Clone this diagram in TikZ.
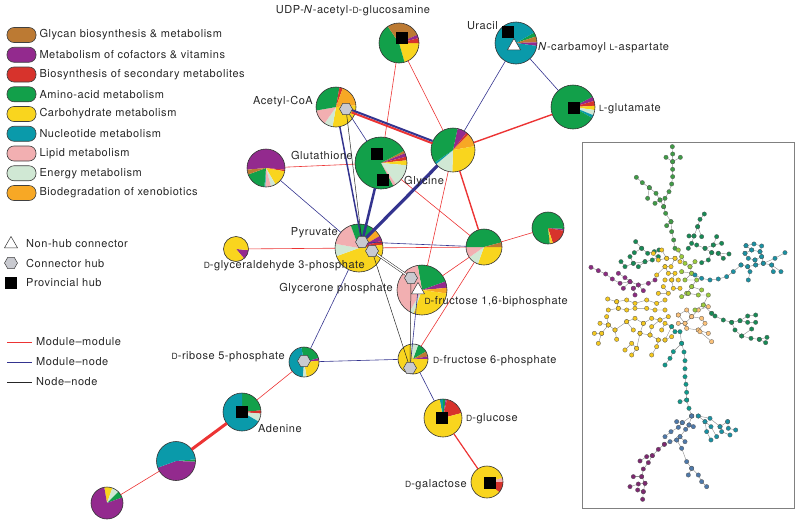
\documentclass[tikz,border=0pt]{standalone}
\usepackage{fontspec}
\setmainfont{TeX Gyre Heros}
\newfontfamily\labfamily{TeX Gyre Heros}[LetterSpace=5, Ligatures=TeX]
\usetikzlibrary{positioning,shapes.geometric}

% category colours
\definecolor{cglycan}{HTML}{BC7A33}
\definecolor{ccofac}{HTML}{932A8E}
\definecolor{csecond}{HTML}{D7332C}
\definecolor{camino}{HTML}{12A04A}
\definecolor{ccarbo}{HTML}{F9D51E}
\definecolor{cnucleo}{HTML}{0A9AAA}
\definecolor{clipid}{HTML}{F2AFB1}
\definecolor{cenergy}{HTML}{D0E8D4}
\definecolor{cxeno}{HTML}{F7A825}
\definecolor{hubgray}{HTML}{C9CAD0}
\definecolor{mmred}{HTML}{EC3434}
\definecolor{mnblue}{HTML}{34348F}
% inset colours
\definecolor{ngreen}{HTML}{3F9B46}
\definecolor{dgreen}{HTML}{178A55}
\definecolor{lgreen}{HTML}{9BCB3C}
\definecolor{nyellow}{HTML}{F4C81E}
\definecolor{lorange}{HTML}{FBC27A}
\definecolor{npurple}{HTML}{8C2B82}
\definecolor{nteal}{HTML}{0E9A8C}
\definecolor{ncyan}{HTML}{1A91A3}
\definecolor{nblue}{HTML}{4E79AA}
\definecolor{npurple2}{HTML}{7D2870}

\pgfdeclarelayer{front}
\pgfsetlayers{main,front}

\newcommand{\labfont}{\labfamily\fontsize{11}{13}\selectfont}
\newcommand{\smc}[1]{{\fontsize{8.5}{9}\selectfont #1}}

% pie node: name, centre, radius, slices
\newcommand{\pienode}[4]{%
  \node[pie, minimum size=2*#3pt] (#1) at (#2) {};
  \foreach \a/\b/\c in {#4}
    \fill[\c] (#1.center) -- ++(\a:#3) arc[start angle=\a, end angle=\b, radius=#3] -- cycle;
  \draw[pierim] (#1.center) circle[radius=#3];
}

\begin{document}
\begin{tikzpicture}[x=1pt, y=-1pt,
  pie/.style={circle, inner sep=0pt, outer sep=0pt},
  pierim/.style={draw=black!80, line width=0.6pt},
  provhub/.style={rectangle, fill=black, minimum size=12pt, inner sep=0pt},
  connhub/.style={regular polygon, regular polygon sides=6, draw=black!75, fill=hubgray, minimum size=13pt, inner sep=0pt, line width=0.5pt},
  nonhub/.style={regular polygon, regular polygon sides=3, draw=black!80, fill=white, minimum size=15pt, inner sep=0pt, line width=0.5pt},
  mm/.style={draw=mmred, line width=0.6pt},
  mn/.style={draw=mnblue, line width=0.6pt},
  nn/.style={draw=black!85, line width=0.5pt},
  lab/.style={font=\labfont, inner sep=0pt, text=black!85},
  legpill/.style={rectangle, rounded corners=7pt, draw=black!75, line width=0.6pt, minimum width=29pt, minimum height=15pt, inner sep=0pt},
  legtext/.style={font=\labfont, inner sep=0pt, text=black!85},
  twig/.style={draw=black!45, line width=0.4pt, mark=*, mark size=2.2pt, mark options={fill=#1, draw=black!65, line width=0.3pt}}]
\useasboundingbox (0,0) rectangle (800,525);

% legend
\foreach \c/\t [count=\i from 0] in {cglycan/Glycan biosynthesis \& metabolism, ccofac/Metabolism of cofactors \& vitamins, csecond/Biosynthesis of secondary metabolites, camino/Amino-acid metabolism, ccarbo/Carbohydrate metabolism, cnucleo/Nucleotide metabolism, clipid/Lipid metabolism, cenergy/Energy metabolism, cxeno/Biodegradation of xenobiotics}
{
  \node[legpill, fill=\c] (leg\i) at (21.5, 35+19.75*\i) {};
  \node[legtext, right=3pt of leg\i] (legt\i) {\t};
}
\node[nonhub] (legtri) at (11,244) {};
\node[legtext, right=15pt of legtri.center, anchor=west] (legtritext) {Non-hub connector};
\node[connhub] (leghex) at (11,263) {};
\node[legtext, right=15pt of leghex.center, anchor=west] (leghextext) {Connector hub};
\node[provhub] (legsq) at (11,283) {};
\node[legtext, right=15pt of legsq.center, anchor=west] (legsqtext) {Provincial hub};

\coordinate (lmm) at (7,342);
\coordinate (lmn) at (7,362);
\coordinate (lnn) at (7,382);
\draw[mm] (lmm) -- ++(25,0) coordinate (lmmend);
\draw[mn] (lmn) -- ++(25,0) coordinate (lmnend);
\draw[nn] (lnn) -- ++(25,0) coordinate (lnnend);
\node[legtext, right=4pt of lmmend] {Module--module};
\node[legtext, right=4pt of lmnend] {Module--node};
\node[legtext, right=4pt of lnnend] {Node--node};

% pies
\pienode{udp}{399,43}{20}{0/74/ccarbo, 74/236/camino, 236/336/cglycan, 336/346/ccofac, 346/360/csecond}
\pienode{ura}{516,43}{21}{-30/-18/camino, -18/-2/cglycan, -2/8/ccofac, 8/330/cnucleo}
\pienode{glu}{573,107}{22}{-28/-16/ccofac, -16/-3/csecond, -3/8/ccarbo, 8/22/cenergy, 22/30/cnucleo, 30/332/camino}
\pienode{aco}{336,107}{20}{-5/100/ccarbo, 100/125/cenergy, 125/170/clipid, 170/280/camino, 280/290/csecond, 290/355/cxeno}
\pienode{gsh}{381,163}{26}{-28/-22/cglycan, -22/-14/ccofac, -14/-6/csecond, -6/5/ccarbo, 5/55/cenergy, 55/62/clipid, 62/332/camino}
\pienode{pA}{453,150}{22}{-78/-52/ccofac, -52/-45/csecond, -45/-10/cxeno, -10/92/ccarbo, 92/140/cenergy, 140/146/cnucleo, 146/282/camino}
\pienode{pB}{266,168}{19}{-185/5/ccofac, 5/10/csecond, 10/60/ccarbo, 60/75/cenergy, 75/92/clipid, 92/95/cnucleo, 95/160/camino, 160/175/cglycan}
\pienode{pyr}{359,248}{24}{0/160/ccarbo, 160/190/cenergy, 190/250/clipid, 250/305/camino, 305/330/cxeno, 330/342/ccofac, 342/352/csecond, 352/360/ccarbo}
\pienode{gap}{236,249}{12.5}{5/50/ccofac, 50/365/ccarbo}
\pienode{fbp}{422,290}{25}{-100/-20/camino, -20/-5/ccofac, -5/8/cxeno, 8/110/ccarbo, 110/120/cenergy, 120/260/clipid}
\pienode{pC}{484,247}{18}{0/110/ccarbo, 110/145/cenergy, 145/180/clipid, 180/345/camino, 345/360/cglycan}
\pienode{pD}{548,228}{16}{3/10/ccofac, 10/72/csecond, 72/80/ccarbo, 80/84/cxeno, 84/363/camino}
\pienode{r5p}{304,362}{15}{-100/-15/camino, -15/-5/ccofac, -5/80/ccarbo, 80/95/cenergy, 95/260/cnucleo}
\pienode{ade}{242,412}{19}{-90/-5/camino, -5/5/csecond, 5/30/cenergy, 30/270/cnucleo}
\pienode{pE}{176,461}{19.5}{-5/2/camino, 2/160/ccofac, 160/355/cnucleo}
\pienode{pF}{107,503}{16}{-100/-70/ccarbo, -70/-45/cenergy, -45/-20/camino, -20/260/ccofac}
\pienode{f6p}{413,359}{15}{-70/-30/camino, -30/-10/cglycan, -10/0/ccofac, 0/260/ccarbo, 260/290/cenergy}
\pienode{glc}{443,418}{19}{-100/-90/cnucleo, -90/-82/camino, -82/-78/ccofac, -78/-15/csecond, -15/260/ccarbo}
\pienode{gal}{487,482}{16}{-15/0/clipid, 0/40/csecond, 40/345/ccarbo}

% hubs
\begin{pgfonlayer}{front}
\node[provhub] (udpsq) at (402,38) {};
\node[provhub] (urasq) at (508,32) {};
\node[nonhub] (uratri) at (514,46) {};
\node[provhub] (glusq) at (574,108) {};
\node[connhub] (acohex) at (346,109) {};
\node[provhub] (gshsq1) at (377,154) {};
\node[provhub] (gshsq2) at (383,180) {};
\node[connhub] (pyrhex1) at (362,242) {};
\node[connhub] (pyrhex2) at (372,251) {};
\node[connhub] (fbphex) at (411,278) {};
\node[nonhub] (fbptri) at (418,290) {};
\node[connhub] (r5phex) at (304,361) {};
\node[provhub] (adesq) at (242,412) {};
\node[connhub] (f6phex) at (410,368) {};
\node[provhub] (glcsq) at (442,418) {};
\node[provhub] (galsq) at (490,483) {};
\end{pgfonlayer}

% module-module links
\draw[mm] (udp) -- (pA);
\draw[mm] (udp) -- (gsh);
\draw[mm] (pB) -- (gsh);
\draw[mm] (gap) -- (pyr);
\draw[mm] (pyr) -- (pC);
\draw[mm] (pC) -- (pD);
\draw[mm] (gsh) -- (pC);
\draw[mm] (pA) -- (fbp);
\draw[mm] (pC) -- (fbp);
\draw[mm] (pC) -- (f6p);
\draw[mm] (r5p) -- (ade);
\draw[mm] (pE) -- (pF);
\draw[mm, line width=1.4pt] (glu) -- (pA);
\draw[mm, line width=1.4pt] (pA) -- (pC);
\draw[mm, line width=1.2pt] (glc) -- (gal);
\draw[mm, line width=3pt] (ade) -- (pE);
\draw[mm, line width=2pt, transform canvas={yshift=-1.2pt}] (acohex) -- (pA);
% module-node links
\draw[mn, line width=2pt, transform canvas={yshift=1.2pt}] (acohex) -- (pA);
\draw[mn] (ura) -- (pA);
\draw[mn] (ura) -- (glu);
\draw[mn] (pB) -- (pyr);
\draw[mn] (acohex) -- (gsh);
\draw[mn] (pyrhex1) -- (pC);
\draw[mn] (pyr) -- (r5p);
\draw[mn] (r5p) -- (f6p);
\draw[mn] (f6p) -- (glc);
\draw[mn] (fbptri) -- (f6phex);
\draw[mn, line width=1.5pt] (aco) -- (pyrhex1);
\draw[mn, line width=2.5pt] (gsh) -- (pyrhex1);
\draw[mn, line width=3.2pt] (pA) -- (pyrhex1);
% node-node links
\draw[nn] (acohex) -- (pyrhex1);
\draw[nn] (pyrhex2) -- (f6phex);
\draw[nn] (fbphex) -- (f6phex);
\draw[nn, double=white, double distance=1.3pt] (pyrhex2) -- (fbphex);

% labels
\begin{pgfonlayer}{front}
\node[lab] (udplab) at (353,11) {UDP-\textit{N}-acetyl-\smc{D}-glucosamine};
\node[lab, anchor=east] (uralab) at (498,26) {Uracil};
\node[lab, anchor=west] (carblab) at (538,48) {\textit{N}-carbamoyl \smc{L}-aspartate};
\node[lab, anchor=west] (glulab) at (599,109) {\smc{L}-glutamate};
\node[lab, anchor=east] (acolab) at (313,102) {Acetyl-CoA};
\node[lab, anchor=east] (gshlab) at (353,155) {Glutathione};
\node[lab, anchor=west] (glylab) at (404,182) {Glycine};
\node[lab, anchor=east] (pyrlab) at (338,233) {Pyruvate};
\node[lab, anchor=east] (gaplab) at (365,266) {\smc{D}-glyceraldehyde 3-phosphate};
\node[lab, anchor=east] (dhaplab) at (393,289) {Glycerone phosphate};
\node[lab, anchor=east] (fbplab) at (568,302) {\smc{D}-fructose 1,6-biphosphate};
\node[lab, anchor=east] (r5plab) at (285,357) {\smc{D}-ribose 5-phosphate};
\node[lab, anchor=west] (adelab) at (258,429) {Adenine};
\node[lab, anchor=west] (f6plab) at (433,361) {\smc{D}-fructose 6-phosphate};
\node[lab, anchor=west] (glclab) at (466,419) {\smc{D}-glucose};
\node[lab, anchor=east] (gallab) at (467,485) {\smc{D}-galactose};
\end{pgfonlayer}

% inset network
\draw[black!50, line width=1pt] (582,142) rectangle (794,508);
\begin{scope}[shift={(565,80)}, x=0.3333pt, y=-0.3333pt]
\draw[twig=ngreen] plot coordinates {(322,200) (323,222) (323,245) (323,268) (323,290) (320,312) (312,335) (300,355) (296,380) (302,400) (318,425) (320,455) (326,480) (330,505)};
\draw[twig=ngreen] plot coordinates {(303,232) (323,245) (346,232)};
\draw[twig=ngreen] plot coordinates {(214,292) (232,308) (253,323) (273,340) (285,360) (296,380)};
\draw[twig=ngreen] plot coordinates {(248,355) (253,323)};
\draw[twig=ngreen] plot coordinates {(270,370) (285,360)};
\draw[twig=ngreen] plot coordinates {(305,437) (318,425)};
\draw[twig=dgreen] plot coordinates {(418,402) (405,418) (398,440) (387,468) (380,490) (370,505)};
\draw[twig=dgreen] plot coordinates {(372,468) (387,468)};
\draw[twig=dgreen] plot coordinates {(410,470) (398,440)};
\draw[twig=dgreen] plot coordinates {(395,495) (420,505) (445,495) (470,490)};
\draw[twig=dgreen] plot coordinates {(455,470) (445,495)};
\draw[twig=dgreen] plot coordinates {(420,505) (440,518) (460,520) (475,535)};
\draw[twig=dgreen] plot coordinates {(440,518) (430,540) (410,548)};
\draw[twig=dgreen] plot coordinates {(460,520) (492,522)};
\draw[twig=dgreen] plot coordinates {(212,485) (230,505) (248,520) (268,515) (282,510)};
\draw[twig=dgreen] plot coordinates {(208,518) (230,505)};
\draw[twig=dgreen] plot coordinates {(168,545) (180,560) (205,550) (240,545) (262,540) (280,530)};
\draw[twig=dgreen] plot coordinates {(220,560) (240,545)};
\draw[twig=dgreen] plot coordinates {(195,530) (205,550)};
\draw[twig=nyellow] plot coordinates {(290,510) (305,535) (330,535) (318,560) (300,560) (310,580) (330,580) (320,600) (340,600)};
\draw[twig=nyellow] plot coordinates {(265,520) (280,540) (305,535)};
\draw[twig=nyellow] plot coordinates {(275,585) (300,560)};
\draw[twig=nyellow] plot coordinates {(345,545) (330,535)};
\draw[twig=nyellow] plot coordinates {(300,600) (320,600) (325,625) (345,625)};
\draw[twig=nyellow] plot coordinates {(295,620) (310,640) (280,640)};
\draw[twig=lgreen] plot coordinates {(340,510) (350,530) (360,550) (375,560) (390,545)};
\draw[twig=lgreen] plot coordinates {(375,560) (380,580) (360,600) (395,600) (380,620) (410,630)};
\draw[twig=lgreen] plot coordinates {(350,575) (380,580)};
\draw[twig=lgreen] plot coordinates {(365,640) (380,620)};
\draw[twig=ncyan] plot coordinates {(543,497) (567,492) (590,498) (585,515) (560,510) (543,497)};
\draw[twig=ncyan] plot coordinates {(540,520) (560,510)};
\draw[twig=ncyan] plot coordinates {(540,520) (550,535) (570,540) (590,530) (585,515)};
\draw[twig=ncyan] plot coordinates {(528,555) (548,560) (572,555) (595,550) (590,530)};
\draw[twig=ncyan] plot coordinates {(548,560) (555,575) (550,600)};
\draw[twig=ncyan] plot coordinates {(572,555) (570,540)};
\draw[twig=ncyan] plot coordinates {(595,550) (620,555) (648,575)};
\draw[twig=ncyan] plot coordinates {(595,550) (630,535) (660,518)};
\draw[twig=ncyan] plot coordinates {(620,555) (625,575)};
\draw[twig=ncyan] plot coordinates {(528,555) (505,575) (485,590) (460,597) (435,600) (410,595) (390,585)};
\draw[twig=npurple] plot coordinates {(78,562) (100,572) (122,582) (142,597) (165,610) (195,605) (220,615) (250,610) (270,600)};
\draw[twig=npurple] plot coordinates {(160,580) (180,593) (195,605)};
\draw[twig=npurple] plot coordinates {(205,625) (220,615) (235,632)};
\draw[twig=npurple] plot coordinates {(210,645) (205,625)};
\draw[twig=npurple] plot coordinates {(175,625) (195,605)};
\end{scope}
\begin{scope}[shift={(565,290)}, x=0.3333pt, y=-0.3333pt]
\draw[twig=nyellow] plot coordinates {(128,27) (155,35) (185,30) (210,40) (245,30) (275,40) (300,30)};
\draw[twig=nyellow] plot coordinates {(155,35) (160,55) (185,60) (210,55) (245,55) (270,60) (300,60)};
\draw[twig=nyellow] plot coordinates {(130,60) (160,55)};
\draw[twig=nyellow] plot coordinates {(105,100) (130,105) (150,120) (185,95) (210,85) (235,100) (260,85) (285,90) (310,80)};
\draw[twig=nyellow] plot coordinates {(125,80) (130,105)};
\draw[twig=nyellow] plot coordinates {(205,120) (185,95)};
\draw[twig=nyellow] plot coordinates {(88,130) (110,130) (130,105)};
\draw[twig=nyellow] plot coordinates {(100,160) (110,130)};
\draw[twig=nyellow] plot coordinates {(150,120) (155,148)};
\draw[twig=nyellow] plot coordinates {(225,130) (255,135) (280,150) (300,150) (320,140)};
\draw[twig=nyellow] plot coordinates {(235,100) (225,130)};
\draw[twig=nyellow] plot coordinates {(255,135) (260,110) (285,90)};
\draw[twig=nyellow] plot coordinates {(180,180) (200,160) (215,175) (200,195)};
\draw[twig=nyellow] plot coordinates {(215,175) (225,130)};
\draw[twig=nyellow] plot coordinates {(260,195) (275,170) (280,150)};
\draw[twig=nyellow] plot coordinates {(290,120) (300,100) (320,110) (300,150)};
\draw[twig=lorange] plot coordinates {(340,75) (365,60) (380,80) (360,100) (340,75)};
\draw[twig=lorange] plot coordinates {(380,80) (410,85) (420,100) (400,120) (365,115) (360,100)};
\draw[twig=lorange] plot coordinates {(340,100) (360,100)};
\draw[twig=lorange] plot coordinates {(400,120) (430,130)};
\draw[twig=lorange] plot coordinates {(405,125) (440,155)};
\draw[twig=lorange] plot coordinates {(380,80) (400,60) (430,50)};
\draw[twig=lgreen] plot coordinates {(370,10) (400,15) (430,15) (415,45) (390,60)};
\draw[twig=lgreen] plot coordinates {(415,45) (440,70)};
\draw[twig=lgreen] plot coordinates {(350,20) (370,10)};
\draw[twig=dgreen] plot coordinates {(440,70) (450,78) (475,90) (500,97) (525,92) (548,78) (572,75)};
\draw[twig=dgreen] plot coordinates {(525,92) (548,97) (572,97)};
\draw[twig=dgreen] plot coordinates {(500,97) (510,120) (530,138) (558,145) (583,148) (606,142)};
\draw[twig=dgreen] plot coordinates {(583,148) (602,158)};
\draw[twig=dgreen] plot coordinates {(530,138) (560,117)};
\draw[twig=nteal] plot coordinates {(320,110) (330,125) (345,125) (350,160) (357,186) (360,212) (360,236) (360,260) (363,283) (365,307) (365,330) (372,355) (380,378)};
\draw[twig=nteal] plot coordinates {(350,160) (325,185) (315,205) (300,225)};
\draw[twig=nteal] plot coordinates {(365,330) (345,335)};
\draw[twig=ncyan] plot coordinates {(380,378) (400,378) (420,395) (438,410) (455,440)};
\draw[twig=ncyan] plot coordinates {(400,378) (435,385) (465,410) (488,395)};
\draw[twig=ncyan] plot coordinates {(420,395) (425,425) (438,450)};
\draw[twig=ncyan] plot coordinates {(465,410) (470,425) (495,435)};
\draw[twig=ncyan] plot coordinates {(488,395) (490,415) (512,420)};
\draw[twig=nblue] plot coordinates {(380,378) (372,405) (362,418) (345,440) (335,450) (315,455) (298,463)};
\draw[twig=nblue] plot coordinates {(380,378) (352,398) (335,395)};
\draw[twig=nblue] plot coordinates {(352,398) (340,412) (318,425) (300,440)};
\draw[twig=nblue] plot coordinates {(345,440) (360,455)};
\draw[twig=nblue] plot coordinates {(372,405) (385,410)};
\draw[twig=nblue] plot coordinates {(335,450) (350,475) (365,515) (380,535) (400,555) (410,575) (425,590)};
\draw[twig=nblue] plot coordinates {(380,535) (370,555)};
\draw[twig=npurple2] plot coordinates {(298,463) (280,478) (262,497) (245,500) (225,513)};
\draw[twig=npurple2] plot coordinates {(262,497) (250,518) (235,537) (230,560) (240,580) (235,605) (233,628)};
\draw[twig=npurple2] plot coordinates {(230,560) (205,560)};
\draw[twig=npurple2] plot coordinates {(240,580) (220,582) (195,590)};
\draw[twig=npurple2] plot coordinates {(235,605) (218,600)};
\end{scope}
\end{tikzpicture}
\end{document}
